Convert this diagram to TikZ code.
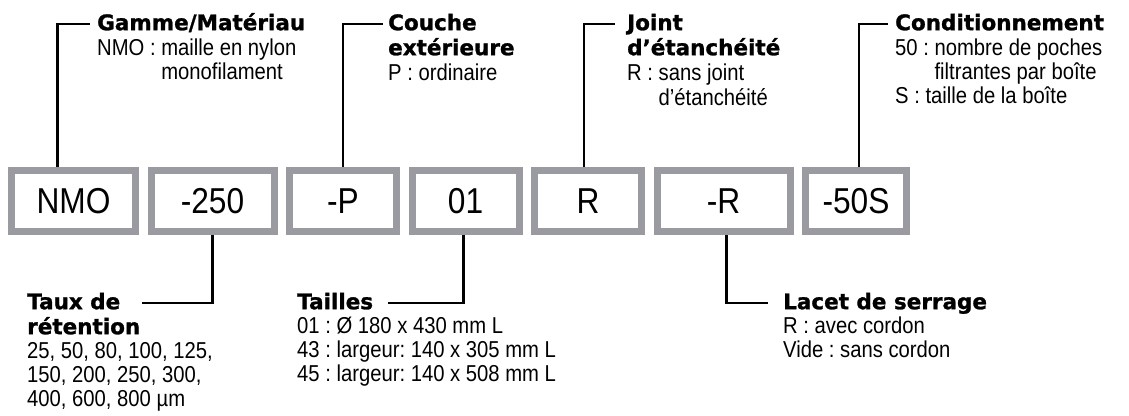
\documentclass[tikz,border=0pt]{standalone}
\usepackage{fontspec}
\setmainfont{Liberation Sans}[FakeStretch=0.88]
\newfontfamily\headfam{DejaVu Sans}[BoldFeatures={FakeBold=1.2}]
\usetikzlibrary{positioning}
\definecolor{codegray}{RGB}{154,155,160}
\frenchspacing
\newcommand\headfont{\headfam\bfseries\fontsize{21.5}{25}\selectfont}
\newcommand\infofont{\fontsize{23}{24}\selectfont}
\newcommand\codefont{\fontsize{36}{40}\selectfont}
\tikzset{
  code/.style={draw=codegray, line width=7pt, minimum height=61pt, inner sep=0pt, font=\codefont},
  lead/.style={line width=2.4pt},
  head/.style={anchor=north west, inner sep=0pt, align=left, font=\headfont},
  info/.style={anchor=north west, inner sep=0pt, align=left, font=\infofont},
}
\begin{document}
\begin{tikzpicture}[x=1pt, y=-1pt]
    \useasboundingbox (0,0) rectangle (1129,415);

    % reference code boxes
    \node[code, minimum width=124pt] at (73.5,201) (nmo){NMO};
    \node[code, minimum width=123pt, right=8.5pt of nmo] (mesh){-250};
    \node[code, minimum width=107pt, right=8.5pt of mesh] (layer){-P};
    \node[code, minimum width=107pt, right=8.5pt of layer] (size){01};
    \node[code, minimum width=107pt, right=8.5pt of size] (seal){R};
    \node[code, minimum width=133pt, right=8.5pt of seal] (lace){-R};
    \node[code, minimum width=101pt, right=8.5pt of lace] (pack){-50S};

    % upper legends
    \node[head] at (97,12.5) (gamme){\strut Gamme/Matériau};
    \node[info] at (97,38.5) (gammetxt){\strut NMO : maille en nylon\\\hphantom{NMO : }monofilament};
    \node[head] at (388,12.5) (couche){\strut Couche\\extérieure};
    \node[info] at (388,63.5) (couchetxt){\strut P : ordinaire};
    \node[head] at (627,12.5) (joint){\strut Joint\\d’étanchéité};
    \node[info] at (627,63.5) (jointtxt){\strut R : sans joint\\\hphantom{R : }d’étanchéité};
    \node[head] at (895,12.5) (cond){\strut Conditionnement};
    \node[info] at (895,38.5) (condtxt){\strut 50 : nombre de poches\\\hphantom{50 : }filtrantes par boîte\\S : taille de la boîte};

    % lower legends
    \node[head] at (27,291.5) (taux){\strut Taux de\\rétention};
    \node[info] at (27,341.5) (tauxtxt){\strut 25, 50, 80, 100, 125,\\150, 200, 250, 300,\\400, 600, 800 µm};
    \node[head] at (297,291.5) (tailles){\strut Tailles};
    \node[info] at (297,316.5) (taillestxt){\strut 01 : Ø 180 x 430 mm L\\43 : largeur: 140 x 305 mm L\\45 : largeur: 140 x 508 mm L};
    \node[head] at (783,291.5) (lacet){\strut Lacet de serrage};
    \node[info] at (783,316.5) (lacettxt){\strut R : avec cordon\\Vide : sans cordon};

    \coordinate (gammetip) at (90,24);
    \coordinate (couchetip) at (383,24);
    \coordinate (jointtip) at (615,24);
    \coordinate (condtip) at (888,24);
    \coordinate (tauxtip) at (142,303);
    \coordinate (taillestip) at (388,303);
    \coordinate (lacettip) at (768,303);

    \draw[lead] ([xshift=-16pt]nmo.north) |- (gammetip);
    \draw[lead] (layer.north) |- (couchetip);
    \draw[lead] ([xshift=-4pt]seal.north) |- (jointtip);
    \draw[lead] ([xshift=3pt]pack.north) |- (condtip);
    \draw[lead] (mesh.south) |- (tauxtip);
    \draw[lead] ([xshift=-2pt]size.south) |- (taillestip);
    \draw[lead] ([xshift=3pt]lace.south) |- (lacettip);
\end{tikzpicture}
\end{document}
